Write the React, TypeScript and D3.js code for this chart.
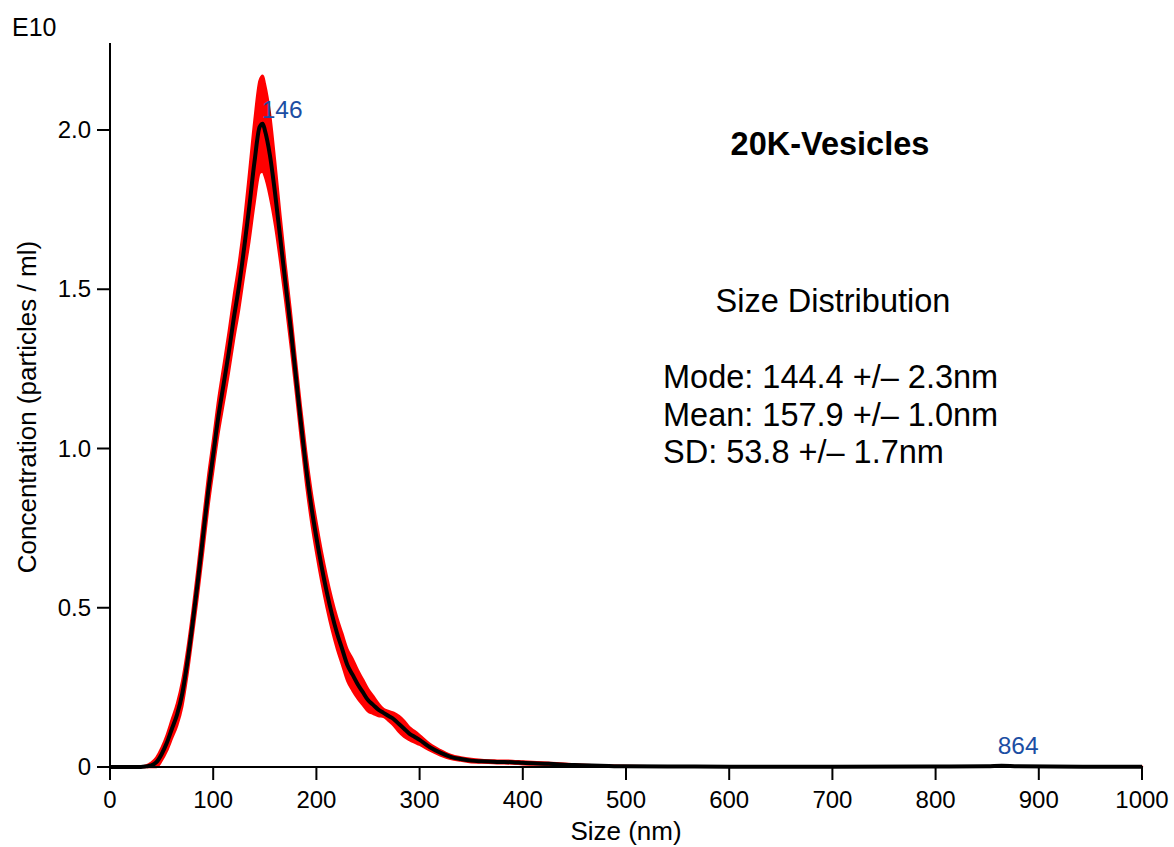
import React from "react";
import * as d3 from "d3";

// Particle size (nm) sampled along the distribution
const sizes = [
  0, 10, 20, 30, 35, 40, 45, 50, 55, 60, 65, 70, 75, 80, 85, 90, 95, 100, 105, 110,
  115, 120, 125, 130, 135, 140, 145, 148, 150, 155, 160, 165, 170, 175, 180, 185, 190,
  195, 200, 205, 210, 215, 220, 225, 230, 235, 240, 245, 250, 255, 260, 265, 270, 275,
  280, 285, 290, 295, 300, 310, 320, 330, 340, 350, 360, 375, 390, 400, 425, 450, 475,
  500, 550, 600, 700, 800, 850, 864, 880, 950, 1000,
];

// Mean concentration (×1e10 particles / ml)
const meanConc = [
  0, 0, 0, 0, 0.002, 0.005, 0.015, 0.04, 0.075, 0.12, 0.165, 0.23, 0.33, 0.45, 0.58, 0.72, 0.86, 0.98, 1.1, 1.2,
  1.3, 1.41, 1.51, 1.63, 1.76, 1.9, 2.01, 2.02, 2.0, 1.92, 1.8, 1.66, 1.52, 1.38, 1.23, 1.08, 0.94,
  0.82, 0.72, 0.63, 0.55, 0.48, 0.42, 0.37, 0.32, 0.29, 0.26, 0.235, 0.21, 0.195, 0.18, 0.17, 0.16, 0.15,
  0.135, 0.12, 0.105, 0.095, 0.085, 0.062, 0.045, 0.032, 0.025, 0.02, 0.018, 0.016, 0.015, 0.013, 0.01, 0.006, 0.004,
  0.002, 0.0015, 0.001, 0.001, 0.0015, 0.002, 0.004, 0.002, 0.001, 0.001,
];

// Standard error of the concentration at each size
const errConc = [
  0, 0, 0, 0, 0.003, 0.008, 0.015, 0.02, 0.025, 0.03, 0.035, 0.04, 0.04, 0.04, 0.045, 0.05, 0.05, 0.05, 0.055, 0.06,
  0.065, 0.07, 0.075, 0.085, 0.11, 0.13, 0.145, 0.15, 0.145, 0.13, 0.1, 0.075, 0.06, 0.055, 0.05, 0.05, 0.05,
  0.05, 0.05, 0.05, 0.05, 0.05, 0.05, 0.05, 0.05, 0.05, 0.045, 0.04, 0.035, 0.028, 0.02, 0.012, 0.015, 0.02,
  0.025, 0.025, 0.02, 0.018, 0.015, 0.01, 0.008, 0.006, 0.005, 0.005, 0.004, 0.004, 0.004, 0.004, 0.003, 0.002, 0.001,
  0.001, 0, 0, 0, 0, 0, 0, 0, 0, 0,
];

const xTicks = [0, 100, 200, 300, 400, 500, 600, 700, 800, 900, 1000];
const yTicks = [0, 0.5, 1.0, 1.5, 2.0];
const yTickLabels = ["0", "0.5", "1.0", "1.5", "2.0"];
// Labelled local maxima: size (nm) and mean concentration there
const peakSizes = [146, 864];
const peakValues = [2.02, 0.004];
const statLines = ["Mode: 144.4 +/\u2013 2.3nm", "Mean: 157.9 +/\u2013 1.0nm", "SD: 53.8 +/\u2013 1.7nm"];

const FONT = "'Liberation Sans', Arial, Helvetica, sans-serif";
const BLUE = "#1c4ea3";

export default function App() {
  const x = d3.scaleLinear().domain([0, 1000]).range([110, 1142]);
  const y = d3.scaleLinear().domain([0, 2]).range([767, 130]);

  const pts = sizes.map((s, i) => ({ s, m: meanConc[i], e: errConc[i] }));

  const band = d3
    .area<{ s: number; m: number; e: number }>()
    .x((d) => x(d.s))
    .y0((d) => y(Math.max(0, d.m - d.e)))
    .y1((d) => y(d.m + d.e))
    .curve(d3.curveMonotoneX);

  const line = d3
    .line<{ s: number; m: number; e: number }>()
    .x((d) => x(d.s))
    .y((d) => y(d.m))
    .curve(d3.curveMonotoneX);

  return (
    <svg
      width={1174}
      height={847}
      style={{ position: "absolute", left: 0, top: 0, background: "#fff" }}
      fontFamily={FONT}
    >
      {/* error band */}
      <path d={band(pts) ?? ""} fill="#ff0000" stroke="#ff0000" strokeWidth={2.5} strokeLinejoin="round" />
      {/* mean curve */}
      <path d={line(pts) ?? ""} fill="none" stroke="#000" strokeWidth={4} strokeLinejoin="round" />

      {/* axes */}
      <line x1={110} x2={110} y1={43} y2={768} stroke="#000" strokeWidth={2} />
      <line x1={109} x2={1143} y1={767} y2={767} stroke="#000" strokeWidth={2} />
      {xTicks.map((t) => (
        <g key={`x${t}`}>
          <line x1={x(t)} x2={x(t)} y1={767} y2={780} stroke="#000" strokeWidth={2} />
          <text x={x(t)} y={808} fontSize={24} textAnchor="middle" fill="#000">
            {t}
          </text>
        </g>
      ))}
      {yTicks.map((t, i) => (
        <g key={`y${t}`}>
          <line x1={97} x2={110} y1={y(t)} y2={y(t)} stroke="#000" strokeWidth={2} />
          <text x={91} y={y(t) + 8} fontSize={24} textAnchor="end" fill="#000">
            {yTickLabels[i]}
          </text>
        </g>
      ))}

      <text x={12} y={36} fontSize={25} fill="#000">E10</text>
      <text x={x(500)} y={840} fontSize={26} textAnchor="middle" fill="#000">Size (nm)</text>
      <text
        transform={`translate(36, ${y(1.13)}) rotate(-90)`}
        fontSize={26}
        textAnchor="middle"
        fill="#000"
      >
        Concentration (particles / ml)
      </text>

      {/* peak annotations */}
      <text x={x(peakSizes[0]) + 1} y={y(peakValues[0]) - 6} fontSize={24.5} fill={BLUE}>
        {peakSizes[0]}
      </text>
      <text x={x(peakSizes[1]) - 4} y={y(peakValues[1]) - 12} fontSize={24.5} fill={BLUE}>
        {peakSizes[1]}
      </text>

      {/* sample title and statistics */}
      <text x={830} y={155} fontSize={32.5} fontWeight="bold" textAnchor="middle" fill="#000">
        20K-Vesicles
      </text>
      <text x={833} y={312} fontSize={32.5} textAnchor="middle" fill="#000">
        Size Distribution
      </text>
      {statLines.map((s, i) => (
        <text key={s} x={663} y={388 + i * 37.5} fontSize={32.5} fill="#000">
          {s}
        </text>
      ))}
    </svg>
  );
}
